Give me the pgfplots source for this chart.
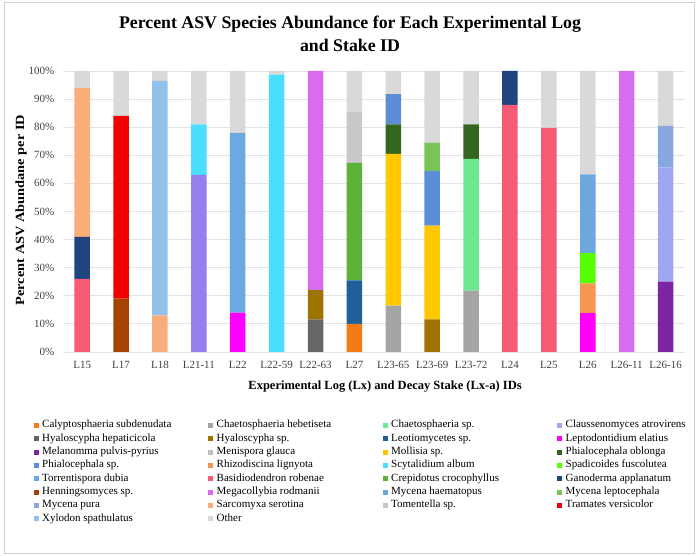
\documentclass[border=0pt]{standalone}
\usepackage{fontspec}
\setmainfont{Liberation Serif}
\usepackage{pgfplots}
\pgfplotsset{compat=1.18}
\usepackage{pgfplotstable}

\definecolor{cCalyp}{HTML}{F47B16}
\definecolor{cChHeb}{HTML}{A5A5A5}
\definecolor{cChSp}{HTML}{6EE890}
\definecolor{cMelan}{HTML}{7B25A5}
\definecolor{cClaus}{HTML}{9EA8F0}
\definecolor{cClausB}{HTML}{9580EE}
\definecolor{cHyHep}{HTML}{666666}
\definecolor{cHySp}{HTML}{9E7300}
\definecolor{cLeot}{HTML}{1F5F9A}
\definecolor{cLepto}{HTML}{FF00FF}
\definecolor{cMenis}{HTML}{BFBFBF}
\definecolor{cMoll}{HTML}{FFC800}
\definecolor{cPhObl}{HTML}{33661F}
\definecolor{cPhSp}{HTML}{5B8ED6}
\definecolor{cRhizo}{HTML}{F79552}
\definecolor{cScyt}{HTML}{4ADEFF}
\definecolor{cSpad}{HTML}{55FF00}
\definecolor{cTorr}{HTML}{6AAAE0}
\definecolor{cBasid}{HTML}{F55B75}
\definecolor{cCrep}{HTML}{5DB33A}
\definecolor{cGano}{HTML}{1F4480}
\definecolor{cHenn}{HTML}{A54300}
\definecolor{cMega}{HTML}{D86CEE}
\definecolor{cMyHae}{HTML}{6CA8DE}
\definecolor{cMyLep}{HTML}{78C35A}
\definecolor{cMyPur}{HTML}{8AA8E0}
\definecolor{cSarc}{HTML}{F9AD7A}
\definecolor{cTom}{HTML}{C8C8C8}
\definecolor{cTram}{HTML}{F20000}
\definecolor{cXylo}{HTML}{92C1EA}
\definecolor{cOther}{HTML}{D9D9D9}
\definecolor{cGrid}{HTML}{E3E3E3}
\definecolor{cFrame}{HTML}{D0D0D0}
\definecolor{cTick}{HTML}{404040}

\pgfplotstableread{
x Calyp ChHeb ChSp Melan Claus ClausB HyHep HySp Leot Lepto Menis Moll PhObl PhSp Rhizo Scyt Spad Torr Basid Crep Gano Henn Mega MyHae MyLep MyPur Sarc Tom Tram Xylo Other
0 0 0 0 0 0 0 0 0 0 0 0 0 0 0 0 0 0 0 26 0 15 0 0 0 0 0 53 0 0 0 6
1 0 0 0 0 0 0 0 0 0 0 0 0 0 0 0 0 0 0 0 0 0 19 0 0 0 0 0 0 65 0 16
2 0 0 0 0 0 0 0 0 0 0 0 0 0 0 0 0 0 0 0 0 0 0 0 0 0 0 13 0 0 83.5 3.5
3 0 0 0 0 0 63 0 0 0 0 0 0 0 0 0 18 0 0 0 0 0 0 0 0 0 0 0 0 0 0 19
4 0 0 0 0 0 0 0 0 0 14 0 0 0 0 0 0 0 64 0 0 0 0 0 0 0 0 0 0 0 0 22
5 0 0 0 0 0 0 0 0 0 0 0 0 0 0 0 98.7 0 0 0 0 0 0 0 0 0 0 0 0 0 0 1.3
6 0 0 0 0 0 0 11.6 10.4 0 0 0 0 0 0 0 0 0 0 0 0 0 0 78 0 0 0 0 0 0 0 0
7 10 0 0 0 0 0 0 0 15.5 0 0 0 0 0 0 0 0 0 0 41.8 0 0 0 0 0 0 0 18.2 0 0 14.5
8 0 16.5 0 0 0 0 0 0 0 0 0 54 10.5 10.8 0 0 0 0 0 0 0 0 0 0 0 0 0 0 0 0 8.2
9 0 0 0 0 0 0 0 11.6 0 0 0 33.4 0 19.4 0 0 0 0 0 0 0 0 0 0 10.1 0 0 0 0 0 25.5
10 0 21.8 46.9 0 0 0 0 0 0 0 0 0 12.3 0 0 0 0 0 0 0 0 0 0 0 0 0 0 0 0 0 19
11 0 0 0 0 0 0 0 0 0 0 0 0 0 0 0 0 0 0 87.9 0 12.1 0 0 0 0 0 0 0 0 0 0
12 0 0 0 0 0 0 0 0 0 0 0 0 0 0 0 0 0 0 79.8 0 0 0 0 0 0 0 0 0 0 0 20.2
13 0 0 0 0 0 0 0 0 0 13.8 0 0 0 0 10.6 0 10.8 0 0 0 0 0 0 28 0 0 0 0 0 0 36.8
14 0 0 0 0 0 0 0 0 0 0 0 0 0 0 0 0 0 0 0 0 0 0 100 0 0 0 0 0 0 0 0
15 0 0 0 25 40.6 0 0 0 0 0 0 0 0 0 0 0 0 0 0 0 0 0 0 0 0 14.9 0 0 0 0 19.5
}\datatable

\pgfplotsset{sqleg/.style={legend image code/.code={\fill[##1] (0pt,-2.6pt) rectangle (5.2pt,2.6pt);}}}
\newcommand{\LE}[1]{\makebox[169.3pt][l]{\hspace{3.3pt}#1}}

\begin{document}
\begin{tikzpicture}
\useasboundingbox (0pt,0pt) rectangle (697pt,556pt);
\draw[cFrame, line width=0.8pt] (4.5pt,2.5pt) rectangle (694.5pt,553.5pt);
\begin{axis}[
  at={(62.7pt,204pt)}, anchor=south west,
  scale only axis, width=622.3pt, height=281pt,
  stack plots=y,
  xmin=-0.5, xmax=15.5, ymin=0, ymax=100,
  xtick={0,...,15},
  xticklabels={L15,L17,L18,L21-11,L22,L22-59,L22-63,L27,L23-65,L23-69,L23-72,L24,L25,L26,L26-11,L26-16},
  ytick={0,10,...,100},
  yticklabel={\pgfmathprintnumber{\tick}\%},
  /pgf/number format/assume math mode=true,
  major tick length=0pt,
  axis line style={draw=none},
  ymajorgrids, grid style={cGrid, line width=0.8pt},
  tick label style={font=\fontsize{11}{12}\selectfont, text=cTick},
  xticklabel style={yshift=-5.5pt},
  yticklabel style={xshift=-5pt},
  title={Percent ASV Species Abundance for Each Experimental Log\\and Stake ID},
  title style={at={(0.4617,1.112)}, anchor=center, align=center, font=\bfseries\fontsize{17.8}{23}\selectfont},
  xlabel={Experimental Log (Lx) and Decay Stake (Lx-a) IDs},
  xlabel style={at={(0.518,-0.122)}, anchor=center, font=\bfseries\fontsize{12.5}{14}\selectfont},
  ylabel={\scalebox{1.15}[1]{Percent ASV Abundane per ID}},
  ylabel style={at={(-0.067,0.505)}, anchor=center, rotate=0, font=\bfseries\fontsize{12.5}{14}\selectfont},
  legend columns=4,
  legend cell align=left,
  legend style={at={(-0.0469,-0.2430)}, anchor=north west, draw=none, fill=none,
    inner sep=0pt, column sep=0pt, row sep=3.33pt,
    nodes={inner sep=0pt, text height=7.5pt, text depth=2.5pt},
    font=\fontsize{11}{12}\selectfont},
]
\pgfplotsinvokeforeach{Calyp,ChHeb,ChSp,Melan,Claus,ClausB,HyHep,HySp,Leot,Lepto,Menis,Moll,PhObl,PhSp,Rhizo,Scyt,Spad,Torr,Basid,Crep,Gano,Henn,Mega,MyHae,MyLep,MyPur,Sarc,Tom,Tram,Xylo,Other}{
  \addplot[ybar, bar width=15.5pt, bar shift=0pt, fill=c#1, draw=none, forget plot]
    table[x expr={\thisrow{#1}==0 ? 60 : \thisrow{x}}, y=#1]{\datatable};
}
\addlegendimage{sqleg, fill=cCalyp, draw=none}\addlegendentry{\LE{Calyptosphaeria subdenudata}}
\addlegendimage{sqleg, fill=cChHeb, draw=none}\addlegendentry{\LE{Chaetosphaeria hebetiseta}}
\addlegendimage{sqleg, fill=cChSp, draw=none}\addlegendentry{\LE{Chaetosphaeria sp.}}
\addlegendimage{sqleg, fill=cClaus, draw=none}\addlegendentry{\LE{Claussenomyces atrovirens}}
\addlegendimage{sqleg, fill=cHyHep, draw=none}\addlegendentry{\LE{Hyaloscypha hepaticicola}}
\addlegendimage{sqleg, fill=cHySp, draw=none}\addlegendentry{\LE{Hyaloscypha sp.}}
\addlegendimage{sqleg, fill=cLeot, draw=none}\addlegendentry{\LE{Leotiomycetes sp.}}
\addlegendimage{sqleg, fill=cLepto, draw=none}\addlegendentry{\LE{Leptodontidium elatius}}
\addlegendimage{sqleg, fill=cMelan, draw=none}\addlegendentry{\LE{Melanomma pulvis-pyrius}}
\addlegendimage{sqleg, fill=cMenis, draw=none}\addlegendentry{\LE{Menispora glauca}}
\addlegendimage{sqleg, fill=cMoll, draw=none}\addlegendentry{\LE{Mollisia sp.}}
\addlegendimage{sqleg, fill=cPhObl, draw=none}\addlegendentry{\LE{Phialocephala oblonga}}
\addlegendimage{sqleg, fill=cPhSp, draw=none}\addlegendentry{\LE{Phialocephala sp.}}
\addlegendimage{sqleg, fill=cRhizo, draw=none}\addlegendentry{\LE{Rhizodiscina lignyota}}
\addlegendimage{sqleg, fill=cScyt, draw=none}\addlegendentry{\LE{Scytalidium album}}
\addlegendimage{sqleg, fill=cSpad, draw=none}\addlegendentry{\LE{Spadicoides fuscolutea}}
\addlegendimage{sqleg, fill=cTorr, draw=none}\addlegendentry{\LE{Torrentispora dubia}}
\addlegendimage{sqleg, fill=cBasid, draw=none}\addlegendentry{\LE{Basidiodendron robenae}}
\addlegendimage{sqleg, fill=cCrep, draw=none}\addlegendentry{\LE{Crepidotus crocophyllus}}
\addlegendimage{sqleg, fill=cGano, draw=none}\addlegendentry{\LE{Ganoderma applanatum}}
\addlegendimage{sqleg, fill=cHenn, draw=none}\addlegendentry{\LE{Henningsomyces sp.}}
\addlegendimage{sqleg, fill=cMega, draw=none}\addlegendentry{\LE{Megacollybia rodmanii}}
\addlegendimage{sqleg, fill=cMyHae, draw=none}\addlegendentry{\LE{Mycena haematopus}}
\addlegendimage{sqleg, fill=cMyLep, draw=none}\addlegendentry{\LE{Mycena leptocephala}}
\addlegendimage{sqleg, fill=cMyPur, draw=none}\addlegendentry{\LE{Mycena pura}}
\addlegendimage{sqleg, fill=cSarc, draw=none}\addlegendentry{\LE{Sarcomyxa serotina}}
\addlegendimage{sqleg, fill=cTom, draw=none}\addlegendentry{\LE{Tomentella sp.}}
\addlegendimage{sqleg, fill=cTram, draw=none}\addlegendentry{\LE{Tramates versicolor}}
\addlegendimage{sqleg, fill=cXylo, draw=none}\addlegendentry{\LE{Xylodon spathulatus}}
\addlegendimage{sqleg, fill=cOther, draw=none}\addlegendentry{\LE{Other}}
\end{axis}
\end{tikzpicture}
\end{document}
